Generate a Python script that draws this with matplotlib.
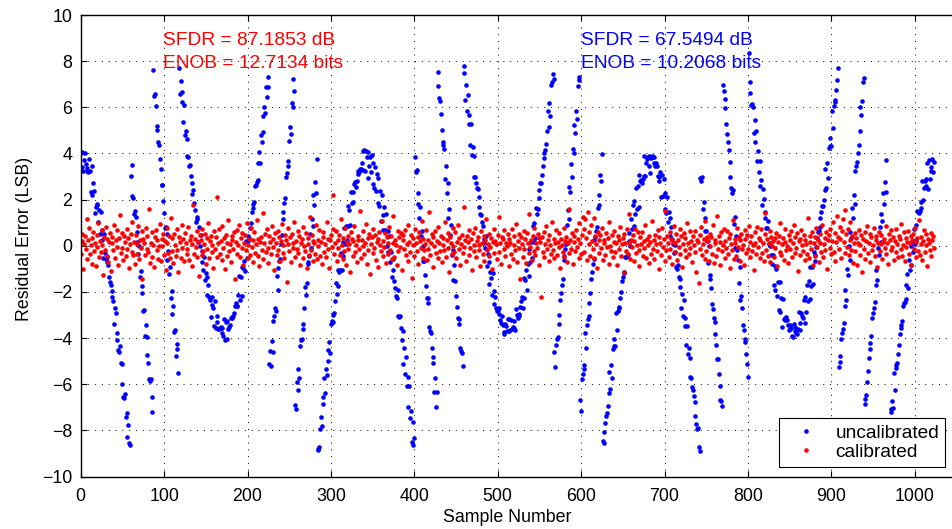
import numpy as np
import matplotlib.pyplot as plt

plt.rcParams['font.family'] = ['Liberation Sans', 'DejaVu Sans']

# residual error per sample (LSB)
uncalibrated = [
    4.02, 3.43, 4.07, 3.24, 3.73, 4.00, 3.56, 3.36, 3.24, 3.21,
    3.75, 3.25, 2.34, 3.45, 2.20, 2.73, 2.38, 1.43, 1.66, 1.79,
    1.78, 1.03, 1.57, 0.53, 1.46, 0.24, 0.69, -0.54, 0.49, -0.30,
    -0.58, -0.48, -0.69, -0.82, -1.36, -1.56, -1.70, -1.96, -2.20, -2.39,
    -3.40, -2.71, -2.90, -3.79, -4.08, -4.51, -4.59, -4.35, -5.09, -6.00,
    -5.14, -6.55, -6.59, -6.43, -7.43, -7.25, -8.30, -7.78, -8.56, -8.64,
    3.01, 3.50, 2.16, 2.05, 1.38, 1.49, 1.24, 0.17, 0.59, -0.35,
    -0.02, -1.36, -1.09, -2.03, -1.73, -2.83, -2.78, -3.93, -3.42, -3.97,
    -4.74, -5.10, -5.76, -5.86, -5.78, -6.54, -7.21, 7.60, 6.49, 6.57,
    6.04, 5.20, 5.00, 4.50, 4.35, 3.77, 3.31, 2.63, 2.65, 1.94,
    1.43, 0.75, 0.80, 0.50, -0.62, -0.23, -1.21, -0.90, -2.25, -1.98,
    -2.94, -2.60, -3.74, -3.66, -4.79, -4.27, -4.47, -5.51, 7.71, 6.58,
    7.14, 6.67, 6.23, 5.37, 6.09, 4.80, 4.97, 4.62, 3.90, 3.85,
    3.47, 3.50, 3.02, 2.74, 2.24, 2.42, 1.86, 1.54, 1.03, 1.24,
    1.14, 0.18, 0.81, -0.01, 0.48, -0.70, -0.24, -1.04, -0.50, -1.48,
    -1.16, -2.13, -1.37, -1.71, -2.21, -2.36, -3.08, -2.22, -2.58, -2.70,
    -3.46, -2.38, -3.57, -3.03, -3.32, -3.62, -3.61, -3.58, -3.51, -3.56,
    -3.77, -3.89,
    -3.18, -4.09, -3.31, -4.05, -3.27, -3.62, -3.52, -3.43, -3.14, -3.10,
    -3.12, -3.04, -2.90, -2.62, -2.47, -2.60, -2.59, -2.12, -1.32, -2.33,
    -1.36, -2.16, -0.90, -0.97, -0.64, -1.08, 0.19, -0.52, 0.21, 0.41,
    0.34, 0.75, 1.00, 1.48, 1.63, 1.80, 1.90, 2.59, 2.64, 2.78,
    2.87, 3.58, 4.07, 3.60, 4.82, 4.51, 5.61, 4.95, 6.03, 5.76,
    6.88, 6.43, 7.31, 6.90, -5.12, -4.56, -5.20, -4.12, -4.61, -3.26,
    -3.03, -2.68, -2.84, -1.33, -1.93, -0.97, -0.65, -0.56, 0.06, 0.48,
    1.16, 1.47, 1.84, 2.09, 2.96, 3.14, 3.46, 3.68, 4.55, 5.16,
    4.85, 6.18, 6.01, 7.22, 6.69, -6.91, -7.09, -5.91, -6.27, -5.35,
    -5.71, -4.35, -4.09, -4.02, -3.59, -3.38, -2.71, -1.79, -2.12, -1.60,
    -0.77, -0.70, -0.44, 0.53, -0.09, 1.18, 0.87, 2.18, 1.77, 2.76,
    2.27, 3.76, -8.80, -8.86, -8.71, -7.93, -7.40, -7.81, -6.57, -6.84,
    -5.74, -6.38, -5.34, -5.60, -4.52, -4.98, -4.16, -4.63, -3.40, -3.26,
    -3.31, -3.00, -2.93, -2.39, -1.62, -2.09, -1.73, -1.06, -1.14, -1.05,
    -0.32, -1.04, 0.16, -0.43, 0.78, 0.09, 0.85, 0.27, 1.71, 0.87,
    1.55, 0.92, 2.33, 1.87, 1.88, 2.34, 2.68, 2.78, 2.56, 2.81,
    3.10, 3.23, 3.19, 3.31, 3.34, 3.60, 4.11, 3.28, 4.17, 3.22,
    4.09,
    3.85, 4.05, 2.95, 3.45, 3.84, 3.21, 3.92, 2.67, 3.58, 2.49,
    3.43, 2.39, 3.12, 1.87, 2.93, 1.72, 2.37, 1.09, 2.21, 1.35,
    0.70, 1.66, 0.68, 1.37, -0.01, 0.63, -0.25, 0.43, -0.70, -0.26,
    -1.35, -0.56, -1.05, -1.51, -1.84, -2.16, -2.27, -1.93, -3.04, -3.08,
    -3.06, -3.55, -4.10, -3.69, -5.14, -4.44, -5.56, -4.84, -6.07, -5.67,
    -6.99, -6.09, -7.48, -7.14, -8.52, -7.64, -8.63, -8.35, 3.85, 3.21,
    3.28, 1.81, 2.27, 1.19, 1.68, 0.41, 0.64, -0.64, 0.01, -0.64,
    -1.26, -1.76, -2.25, -2.50, -2.27, -3.53, -3.71, -3.80, -4.42, -5.09,
    -4.80, -6.34, -5.75, -6.98, -6.34, 7.54, 6.92, 6.40, 6.28, 5.71,
    5.02, 4.48, 4.35, 4.20, 2.88, 3.45, 2.28, 2.73, 1.20, 1.61,
    0.47, 0.92, -0.39, -0.18, -1.49, -0.85, -1.53, -2.16, -2.66, -3.15,
    -3.40, -3.16, -4.41, -4.56, -4.64, -5.22, 7.47, 7.81, 6.33, 6.98,
    5.82, 6.53, 5.27, 5.68, 4.37, 5.29, 3.92, 4.28, 2.96, 3.89,
    2.97, 2.72, 2.52, 2.44, 2.13, 1.70, 1.36, 1.32, 1.04, 0.84,
    0.31, 0.13, -0.09, 0.41, -0.89, -0.37, -1.66, -0.72, -1.12, -1.38,
    -2.13, -1.16, -2.51, -1.96, -2.23, -2.69, -2.84, -2.77, -2.69, -2.97,
    -3.22, -3.35, -3.05, -3.42, -3.74, -3.83, -3.41, -3.47, -3.71, -3.17,
    -3.69,
    -3.19, -3.67, -3.21, -3.60, -3.53, -3.24, -3.58, -3.65, -2.74, -3.00,
    -3.14, -3.06, -2.97, -2.65, -2.40, -2.20, -2.68, -1.38, -2.28, -1.50,
    -1.05, -1.90, -0.81, -1.30, -0.14, -0.72, 0.17, -0.53, 0.85, 0.15,
    0.99, 0.32, 1.65, 1.39, 1.59, 2.06, 2.40, 2.72, 2.72, 3.05,
    3.45, 3.81, 4.03, 4.17, 4.43, 4.99, 5.84, 5.14, 6.19, 5.64,
    6.97, 7.11, 7.44, 7.23, -4.62, -5.24, -4.31, -4.03, -3.96, -3.38,
    -2.98, -2.33, -2.03, -1.70, -1.46, -0.62, -0.43, -0.15, 0.07, 0.91,
    1.53, 1.18, 2.53, 2.33, 3.55, 3.00, 4.18, 4.01, 5.23, 4.88,
    5.86, 5.51, 6.91, 7.19, 7.31, -6.67, -7.16, -5.77, -5.55, -5.17,
    -5.35, -3.80, -4.41, -3.45, -3.16, -3.06, -2.48, -2.06, -1.43, -1.13,
    -0.81, -0.59, 0.23, 0.39, 0.64, 0.83, 1.62, 2.19, 1.78, 3.07,
    2.81, 3.96, -8.46, -8.55, -8.08, -7.67, -7.38, -7.23, -6.96, -6.38,
    -5.49, -6.20, -5.16, -5.74, -4.46, -4.34, -4.06, -4.35, -2.93, -3.66,
    -2.82, -2.66, -2.70, -2.25, -1.99, -1.51, -1.36, -1.20, -1.13, -0.49,
    -0.50, -0.43, -0.42, 0.19, 0.57, 0.00, 1.17, 0.71, 1.77, 0.85,
    1.95, 1.36, 2.52, 1.61, 2.57, 1.70, 3.08, 2.80, 2.85, 2.70,
    2.88, 3.01, 3.91, 3.03, 3.57, 3.75, 3.85, 3.46, 3.90, 3.14,
    3.82, 3.90, 3.84, 3.84, 3.57, 3.47, 3.60, 3.44, 3.01, 2.82,
    2.98, 3.18, 2.13, 3.06, 2.15, 2.88, 1.59, 2.30, 1.41, 2.10,
    1.03, 1.46, 0.44, 1.19, 0.80, 0.31, 0.07, -0.31, -0.27, 0.04,
    -0.91, -1.01, -0.83, -1.37, -1.77, -1.42, -2.71, -2.07, -3.05, -2.37,
    -3.48, -3.13, -4.31, -3.46, -4.71, -4.44, -5.67, -4.86, -5.72, -6.10,
    -6.24, -6.49, -6.77, -7.39, -7.72, -7.96, -7.90, -8.70, -8.89, 2.95,
    2.82, 2.99, 1.58, 1.91, 0.63, 1.22, 0.64, 0.22, -0.76, -0.03,
    -1.44, -1.28, -1.81, -2.52, -2.75, -3.14, -3.32, -3.83, -4.32, -4.90,
    -4.90, -5.54, -6.09, -6.70, -6.71, -6.93, 6.97, 6.72, 6.36, 5.98,
    5.27, 4.84, 4.51, 4.13, 3.62, 2.99, 2.49, 2.30, 2.41, 0.94,
    1.23, -0.10, 0.44, -0.17, -0.62, -1.63, -0.92, -2.34, -2.18, -2.71,
    -3.42, -3.64, -4.03, -4.19, -4.67, -5.13, -5.67, 8.35, 7.11, 6.62,
    6.08, 6.15, 6.00, 4.88, 5.46, 4.51, 4.97, 3.67, 4.10, 3.19,
    3.67, 2.59, 2.84, 1.77, 2.46, 2.02, 1.45, 1.20, 0.77, 0.78,
    1.08, 0.09, -0.03, 0.14, -0.39, -0.77, -0.39, -1.68, -0.89, -1.93,
    -1.01, -2.16, -1.55, -2.77, -1.58, -2.86, -2.28, -3.51, -2.29, -3.17,
    -3.12, -3.23, -3.09, -3.23, -3.43, -3.67, -3.44, -3.61, -3.58, -3.93,
    -3.95,
    -3.39, -3.52, -3.71, -3.77, -3.82, -3.59, -2.89, -3.64, -3.33, -2.91,
    -3.03, -3.14, -2.35, -3.33, -2.20, -2.86, -1.68, -2.40, -1.53, -2.30,
    -0.91, -1.73, -0.90, -1.67, -0.27, -0.64, -0.41, -0.05, 0.34, 0.59,
    0.62, 0.81, 1.22, 1.47, 1.71, 1.72, 1.98, 2.43, 3.32, 2.51,
    3.58, 2.92, 4.25, 4.31, 4.66, 4.33, 5.84, 5.09, 6.05, 6.21,
    6.30, 6.77, 7.19, 7.72, -5.27, -5.04, -4.76, -4.02, -3.80, -3.60,
    -3.34, -2.59, -1.93, -2.37, -0.99, -1.26, 0.00, -0.63, 0.59, 0.35,
    1.62, 1.20, 2.22, 1.81, 3.26, 3.47, 3.65, 4.03, 4.35, 4.98,
    6.02, 5.65, 6.28, 7.08, 7.28, -6.85, -6.62, -6.45, -5.92, -5.44,
    -4.86, -4.48, -4.21, -3.91, -3.14, -2.91, -2.70, -2.44, -1.68, -1.03,
    -1.47, -0.11, -0.40, 0.83, 0.17, 1.36, 1.07, 2.29, 1.82, 2.78,
    2.31, 3.70, -8.38, -9.12, -7.97, -8.58, -7.19, -7.09, -6.72, -7.03,
    -5.50, -6.25, -5.31, -5.16, -5.10, -4.67, -4.29, -3.82, -3.57, -3.42,
    -3.24, -2.60, -2.50, -2.43, -2.31, -1.71, -1.21, -1.81, -0.60, -1.06,
    0.00, -0.84, 0.17, -0.29, 0.74, 0.08, 0.90, 0.26, 1.49, 1.46,
    1.44, 1.50, 1.64, 1.88, 2.80, 1.98, 2.49, 2.81, 2.88, 2.61,
    3.58, 2.47, 3.70, 2.89, 3.42, 3.26, 3.75, 3.18, 3.62,
]

calibrated = [
    -0.37, 0.50, 0.22, -1.02, 0.08, 0.43, -0.14, 1.14, -0.56, 0.25, 0.76, -0.34, 0.05, -0.79, 0.35, 0.61,
    -0.23, 0.13, -0.88, 0.46, -0.06, 0.98, -0.49, 0.19, -0.29, 0.68, 0.02, -1.26, 0.40, -0.17, 0.83, -0.43,
    0.29, -0.70, 0.16, 0.56, -1.10, 0.10, 0.37, -0.20, 0.89, -0.53, 0.23, -0.04, 0.67, -0.85, 0.32, 1.34,
    -0.31, 0.54, -0.11, -0.62, 0.42, 0.17, -0.46, 0.73, -0.16, 0.34, -0.97, 0.06, 0.52, -0.25, 1.04, -0.41,
    0.18, -0.77, 0.47, 0.07, -0.35, 0.86, -0.58, 0.26, -0.08, 0.64, -1.42, 0.31, 0.11, -0.42, 0.77, -0.13,
    0.44, -0.28, 1.61, -0.74, 0.14, -0.47, 0.58, 0.04, -0.92, 0.37, 0.70, -0.19, 0.25, -0.59, 0.01, 0.95,
    -0.66, 0.30, -0.02, 0.53, -0.40, 0.20, -1.06, 0.79, 0.10, -0.32, 0.42, -0.54, 1.21, -0.22, 0.32, -0.73,
    0.49, 0.05, -0.44, 0.71, -0.18, -1.15, 0.38, 0.16, -0.52, 0.91, -0.10, 0.28, -0.68, 0.55, 0.12, -0.35,
    -0.14, 0.82, -0.60, 0.23, 0.41, -0.86, 0.08, 1.78, -0.37, 0.31, -0.07, 0.62, -0.48, 0.17, -1.31, 0.46,
    0.26, -0.41, 0.73, -0.23, 0.06, 0.52, -0.78, 0.34, -0.12, 1.00, -0.55, 0.19, 0.44, -0.29, 0.02, -0.95,
    0.65, -0.16, 0.36, 2.10, -0.49, 0.11, 0.74, -0.36, 0.22, -0.62, 0.85, -0.08, 0.32, -1.01, 0.48, 0.13,
    -0.43, 1.12, -0.24, 0.07, -0.72, 0.42, 0.24, -0.13, 0.58, -1.46, 0.18, 0.68, -0.34, 0.04, 0.89, -0.50,
    0.35, -0.10, 0.54, -0.83, 0.14, 0.46, -0.20, 0.97, -0.54, 0.02, 0.31, -0.38, 0.77, -0.05, -0.70, 0.23,
    0.60, -0.31, 0.08, 1.10, -0.46, 0.28, -0.89, 0.16, 0.40, -0.18, 1.43, -0.59, 0.10, 0.49, -0.26, 0.72,
    -0.11, -0.76, 0.43, 0.17, -0.36, 0.84, -0.06, 0.30, -1.07, 0.56, 0.12, -0.42, 0.66, -0.17, 0.37, -0.64,
    0.20, 0.94, -0.32, 0.05, -0.55, 0.47, 0.25, -1.57, 0.07, 0.76, -0.22, 0.36, -0.72, 0.53, 0.14, -0.08,
    1.03, -0.47, 0.19, -0.13, 0.64, -0.30, 0.42, -0.84, 0.10, 0.29, -0.53, 0.80, 0.01, -0.24, 0.55, -0.98,
    0.32, 0.06, -0.40, 1.26, -0.19, 0.48, -0.66, 0.22, 0.11, -0.34, 0.88, -0.56, 0.24, -0.02, 0.70, -0.44,
    0.16, -0.80, 0.38, 0.59, -0.25, 0.08, -0.50, 1.02, -0.16, 0.31, -0.96, 0.23, 0.46, -0.07, 0.72, 2.18,
    -0.37, 0.13, 0.62, -0.68, 0.26, -0.11, 0.48, -0.41, 1.16, 0.04, -0.58, 0.35, -0.23, 0.78, -0.84, 0.17,
    0.41, -0.14, 0.08, -1.12, 0.58, 0.30, -0.43, 0.19, 0.85, -0.28, 0.05, -0.71, 0.44, 0.25, -0.12, 1.52,
    -0.54, 0.23, -0.02, 0.66, -0.36, 0.12, 0.96, -0.77, 0.34, -0.20, 0.52, -1.22, 0.07, 0.40, -0.30, 0.74,
    -0.10, 0.47, -0.60, 0.17, 0.29, -0.91, 0.61, 0.02, -0.24, 1.06, -0.44, 0.20, -0.05, 0.54, -0.73, 0.36,
    0.11, -0.35, 0.80, -0.17, 0.42, -0.58, 1.30, 0.14, -0.48, 0.26, 0.05, -0.84, 0.65, -0.23, 0.37, -0.06,
    0.55, -1.03, 0.24, 0.46, -0.13, 0.70, -0.38, 0.08, -0.64, 0.89, 0.18, -0.29, 0.48, -1.38, 0.32, 0.04,
    -0.46, 0.73, 0.13, -0.24, 0.38, -0.79, 0.59, 0.22, -0.08, 1.08, -0.52, 0.31, -0.17, 0.06, 0.68, -0.62,
    0.25, -0.12, 1.46, -0.42, 0.10, 0.50, -0.94, 0.36, -0.02, 0.64, -0.32, 0.19, 0.83, -0.54, 0.14, -0.24,
    0.43, -0.72, 0.05, 0.34, -0.19, 1.01, -0.47, 0.23, 0.56, -0.11, -1.14, 0.40, 0.12, -0.37, 0.76, 0.01,
    -0.26, 0.60, -0.53, 0.18, 0.91, -0.14, 0.35, -0.82, 0.08, 0.48, -0.31, 1.69, -0.06, 0.26, -0.64, 0.42,
    0.16, -0.41, 0.70, -0.10, 0.29, -1.04, 0.54, 0.02, -0.23, 0.79, -0.49, 0.20, 0.37, -0.17, 0.04, -0.86,
    0.62, 0.11, -0.36, 0.44, -0.67, 0.24, 1.14, -0.20, 0.07, -0.46, 0.53, -0.05, 0.32, -1.00, 0.17, 0.72,
    -0.32, 0.22, 0.06, -0.59, 0.47, 1.24, -0.25, 0.12, -0.77, 0.38, 0.28, -0.13, 0.67, -0.43, 0.10, -0.02,
    0.52, -0.89, 0.31, 0.14, -0.34, 0.72, -0.56, 0.04, 0.42, -0.18, 0.95, -0.70, 0.19, 0.49, -0.11, -1.44,
    0.36, 0.08, -0.48, 0.66, -0.16, 0.29, -0.74, 0.55, 0.13, -0.30, 1.39, -0.04, 0.24, -0.60, 0.44, -0.22,
    0.77, -0.38, 0.11, -0.10, 0.50, -0.85, 0.34, 0.18, -2.20, 0.40, -0.28, 0.60, -0.49, 0.06, 0.86, -0.14,
    0.23, -0.66, 0.46, 0.02, -0.35, 1.04, -0.19, 0.30, -0.55, 0.12, 0.70, -0.42, 0.17, -0.07, 0.56, -0.97,
    0.31, 0.05, -0.26, 0.79, -0.48, 0.20, 0.37, -0.71, 0.11, 1.58, -0.32, 0.25, -0.12, 0.54, -0.80, 0.16,
    0.42, -0.22, 0.67, -0.04, 0.29, -0.53, 0.98, 0.14, -0.36, 0.48, 1.26, 0.74, -0.25, 1.14, 0.34, -0.60,
    1.45, 0.08, 0.58, -0.44, 0.88, 0.19, -0.14, 1.22, -0.54, 0.41, 0.07, -0.95, 0.61, 0.24, -0.31, 0.47,
    -0.10, 0.76, -0.62, 0.26, 0.13, -0.40, 0.56, -0.06, 0.35, -0.77, 1.03, 0.01, -0.23, 0.46, -0.50, 0.18,
    0.65, -0.29, 0.10, -0.84, 0.43, 0.23, -0.13, 0.82, -0.44, 0.06, 0.32, -1.12, 0.52, 0.14, -0.24, 0.71,
    -0.37, 0.12, 1.37, -0.58, 0.26, -0.07, 0.47, -0.68, 0.20, 0.73, -0.30, 0.04, 0.58, -0.18, -0.89, 0.38,
    0.08, 0.60, -0.43, 0.22, -0.11, 0.92, -0.52, 0.29, 0.02, -0.73, 0.42, 0.17, -0.34, 1.08, -0.16, 0.25,
    -0.56, 0.48, 0.07, -0.24, 0.68, -1.01, 0.36, 0.13, -0.42, 0.77, -0.05, 0.28, -0.66, 1.50, -0.19, 0.44,
    0.14, -0.47, 0.59, -0.12, 0.31, -0.79, 0.18, 0.85, -0.28, 0.10, 0.50, -0.60, 0.23, -0.04, 0.72, -0.34,
    0.41, -0.92, 0.06, 0.54, -0.17, 0.35, -0.48, 1.00, 0.12, -0.37, 0.62, -0.08, 0.22, -0.70, 0.44, 0.05,
    -0.29, 0.66, -1.14, 0.25, 0.16, -1.62, 0.48, -0.14, 0.82, -0.41, 0.07, 0.30, -0.56, 1.07, -0.22, 0.36,
    0.19, -0.64, 0.53, -0.02, 0.40, -0.35, 0.90, -0.74, 0.11, 0.24, -0.46, 1.31, -0.12, 0.43, -0.85, 0.17,
    0.58, -0.24, 0.04, 0.72, -0.53, 0.20, -0.11, 0.64, -0.36, 0.32, -0.96, 0.49, 0.08, -0.18, 1.10, -0.58,
    0.28, 0.12, -0.44, 0.78, -0.07, 0.37, -0.67, 0.23, 0.53, -0.16, 0.02, -0.83, 0.70, 0.31, -0.30, 0.47,
    -0.13, 0.86, -0.50, 0.18, 0.42, -0.23, 0.05, -1.06, 0.60, 0.14, -0.37, 0.80, -0.06, 0.34, -0.55, 0.24,
    0.73, -0.32, 0.11, -0.64, 0.50, 1.40, -0.17, 0.29, -0.43, 0.10, 0.66, -0.72, 0.40, -0.02, 0.22, -0.49,
    0.32, -0.08, 0.56, -0.88, 0.16, 0.43, -0.26, 0.97, -0.41, 0.06, 0.35, -0.60, 0.17, 0.74, -0.20, 0.01,
    -0.76, 0.46, 0.24, -0.12, 0.65, -0.48, 0.13, 0.89, -0.31, 0.38, -0.08, 0.54, -1.10, 0.19, 0.30, -0.40,
    0.70, 0.04, -0.23, 0.48, -0.62, 0.26, 0.08, -0.35, 1.20, -0.54, 0.17, 0.41, -0.14, 0.59, -0.82, 0.12,
    0.36, -0.43, 0.78, -0.05, 0.23, -0.70, 0.52, 0.14, -0.29, 0.92, -0.48, 0.07, 0.34, -0.18, 0.61, -1.00,
    0.25, 0.47, -0.10, 0.71, -0.36, 0.19, 1.03, -0.25, 0.56, -0.66, 0.16, 1.30, 0.40, -0.14, 0.83, 0.29,
    -0.52, 0.62, 1.16, 0.18, -0.32, 1.57, 0.49, -0.07, 0.74, -0.42, 0.24, 1.01, -0.17, 0.44, -0.74, 0.11,
    0.54, -0.22, 0.34, -0.85, 0.13, 0.67, -0.40, 0.05, 0.47, -1.13, 0.28, -0.12, 0.60, -0.56, 0.20, 0.86,
    -0.31, 0.10, 0.53, -0.71, 0.37, -0.18, 0.02, 0.79, -0.46, 0.23, 0.42, -0.92, 0.14, 0.60, -0.24, 0.06,
    0.46, -0.58, 0.17, 0.31, -0.11, 0.84, -0.37, 0.12, -0.77, 0.50, 0.25, -0.20, 0.68, -0.04, 0.40, -0.62,
    0.19, 0.73, -0.29, 0.08, -0.49, 0.44, 0.28, -0.16, 0.95, -0.43, 0.05, 0.58, -0.68, 0.35, -0.07, 0.18,
    0.64, -0.34, 0.11, 0.41, -0.83, 0.24, 0.53, -0.13, 0.77, -0.48, 0.16, 0.32, -0.23, 1.10, -0.40, 0.07,
    0.37, -0.60, 0.22, 0.70, -0.28, 0.04, 0.49, -0.89, 0.30, 0.12, -0.19, 0.56, -0.44, 0.26, 0.42, -0.10,
]

sfdr_cal, enob_cal = 87.1853, 12.7134
sfdr_uncal, enob_uncal = 67.5494, 10.2068

n_uncal = np.arange(len(uncalibrated))
n_cal = np.arange(len(calibrated))

fig = plt.figure(figsize=(9.52, 5.29), dpi=100)
# axes runs past the right edge of the picture, as in the original crop
ax = fig.add_axes([80.7 / 952, 52.5 / 529, 1000.8 / 952, 461.5 / 529])

ax.plot(n_uncal, uncalibrated, 'o', color=(0, 0, 1), ms=3.3, mew=0, label='uncalibrated')
ax.plot(n_cal, calibrated, 'o', color=(1, 0, 0), ms=3.3, mew=0, label='calibrated')

ax.set_xlim(0, 1200)
ax.set_ylim(-10, 10)
ax.set_xticks(range(0, 1001, 100))
ax.set_yticks(range(-10, 11, 2))
ax.grid(True, color='k', linestyle=(0, (1, 6)), linewidth=0.7)
ax.set_axisbelow(True)
ax.tick_params(direction='in', length=4, width=0.8, top=True, right=True,
               labelsize=12.8, pad=6)
ax.tick_params(axis='x', pad=8)
for s in ax.spines.values():
    s.set_linewidth(1.0)

ax.set_xlabel('Sample Number', fontsize=12.8)
ax.xaxis.set_label_coords(0.426, -0.071)
ax.set_ylabel('Residual Error (LSB)', fontsize=12.8)
ax.yaxis.set_label_coords(-0.048, 0.514)

ax.text(99, 8.70, 'SFDR = %.4f dB' % sfdr_cal, color='r', fontsize=13.8)
ax.text(99, 7.69, 'ENOB = %.4f bits' % enob_cal, color='r', fontsize=13.8)
ax.text(600, 8.70, 'SFDR = %.4f dB' % sfdr_uncal, color='b', fontsize=13.8)
ax.text(600, 7.69, 'ENOB = %.4f bits' % enob_uncal, color='b', fontsize=13.8)

leg = ax.legend(loc='lower right', bbox_to_anchor=(945 / 952, 62.3 / 529),
                bbox_transform=fig.transFigure, fontsize=13.8, fancybox=False,
                framealpha=1, edgecolor='k', borderpad=0.3, borderaxespad=0,
                handlelength=2.2, handletextpad=0.45, labelspacing=0.1,
                numpoints=1)
leg.get_frame().set_linewidth(0.8)

fig.savefig('out.png', dpi=100)
